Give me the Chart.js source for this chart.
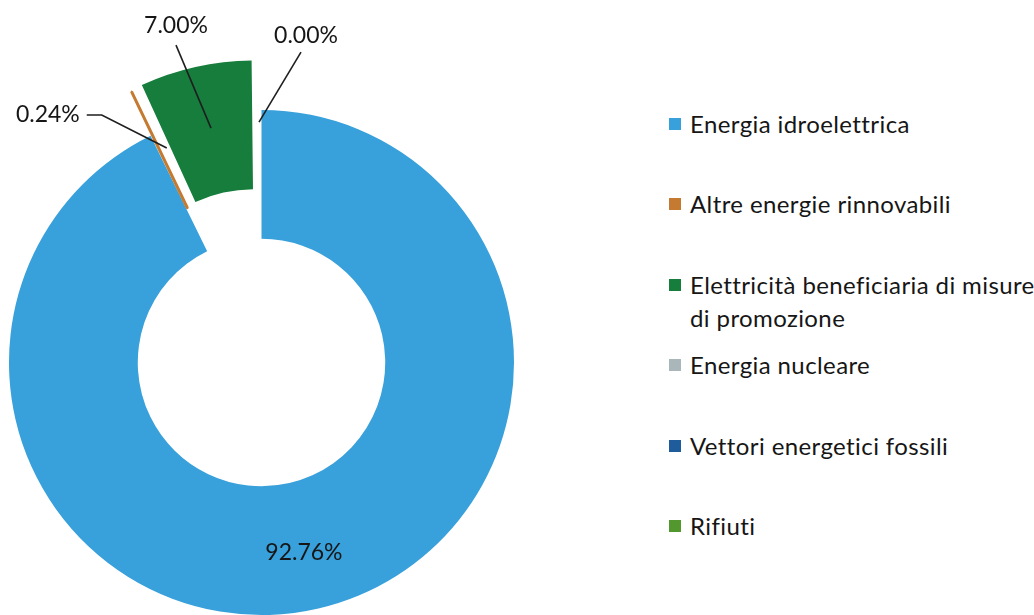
<!DOCTYPE html>
<html lang="it">
<head>
<meta charset="utf-8">
<title>Mix energetico</title>
<script src="https://cdn.jsdelivr.net/npm/chart.js@4.4.1/dist/chart.umd.min.js"></script>
<style>
  html, body { margin: 0; padding: 0; background: #fff; overflow: hidden; width: 1034px; height: 615px; }
  #wrap { position: absolute; left: 1px; top: 0; width: 521px; height: 725px; }
  #legend { position: absolute; left: 669px; top: 107px; margin: 0; padding: 0; list-style: none;
            font-family: Lato, sans-serif; font-size: 24px; letter-spacing: 0.4px; color: #161616; }
  #legend li { height: 80.4px; display: flex; align-items: flex-start; line-height: 33px; white-space: nowrap; }
  #legend .box { width: 12px; height: 12px; margin-top: 11px; margin-right: 9px; flex: none; }
</style>
</head>
<body>
<div id="wrap"><canvas id="pieChart"></canvas></div>
<ul id="legend"></ul>
<script>
"use strict";

const categories = [
  "Energia idroelettrica",
  "Altre energie rinnovabili",
  ["Elettricità beneficiaria di misure", "di promozione"],
  "Energia nucleare",
  "Vettori energetici fossili",
  "Rifiuti"
];
const shares = [92.76, 0.24, 7.00, 0, 0, 0];

const sliceColors = ["#38a0da", "#c47a30", "#167d3c", "#a9b6ba", "#1f5c9c", "#53982f"];
const sliceOffsets = [0, 96, 128, 0, 0, 0];
const sliceBorders = [0, 3, 0, 0, 0, 0];

// where each percentage label goes, relative to the slice's center point
const callouts = {
  0: { text: [0, 7], align: "center" },
  1: { line: [[7.4, -1.6], [-57.6, -34.6], [-72.6, -34.6]], text: [-79.6, -34.6], align: "right" },
  2: { line: [[4.5, 11.7], [-30.5, -71.3]], text: [-30.5, -91.3], align: "center" },
  5: { line: [[-2.5, -52.25], [39.5, -122.25]], text: [44.5, -139.25], align: "center" }
};

const calloutPlugin = {
  id: "callouts",
  afterDatasetsDraw(chart) {
    const ctx = chart.ctx;
    const arcs = chart.getDatasetMeta(0).data;
    ctx.save();
    ctx.font = "23px Lato, sans-serif";
    ctx.fillStyle = "#161616";
    ctx.strokeStyle = "#1e1e1e";
    ctx.lineWidth = 1.6;
    ctx.textBaseline = "middle";
    for (const key in callouts) {
      let i = Number(key);
      let c = callouts[key];
      let p = arcs[i].getCenterPoint();
      if (c.line) {
        ctx.beginPath();
        c.line.forEach(function (pt, k) {
          if (k === 0) ctx.moveTo(p.x + pt[0], p.y + pt[1]);
          else ctx.lineTo(p.x + pt[0], p.y + pt[1]);
        });
        ctx.stroke();
      }
      ctx.textAlign = c.align;
      ctx.fillText(shares[i].toFixed(2) + "%", p.x + c.text[0], p.y + c.text[1]);
    }
    ctx.restore();
  }
};

const pieData = {
  labels: categories,
  datasets: [
    {
      data: shares,
      backgroundColor: sliceColors,
      borderColor: sliceColors,
      borderWidth: sliceBorders,
      offset: sliceOffsets,
    },
  ],
};

const configPie = {
  type: "doughnut",
  data: pieData,
  options: {
    responsive: true,
    maintainAspectRatio: false,
    animation: false,
    events: [],
    radius: 252.5,
    cutout: "49%",
    plugins: {
      legend: { display: false },
      tooltip: { enabled: false },
    },
  },
  plugins: [calloutPlugin],
};

const pieChart = new Chart(document.getElementById("pieChart"), configPie);

// html legend next to the chart
const legendList = document.getElementById("legend");
for (let i = 0; i < categories.length; i++) {
  let item = document.createElement("li");
  let box = document.createElement("span");
  box.className = "box";
  box.style.background = sliceColors[i];
  let label = document.createElement("span");
  [].concat(categories[i]).forEach(function (ln, k) {
    if (k > 0) label.appendChild(document.createElement("br"));
    label.appendChild(document.createTextNode(ln));
  });
  item.appendChild(box);
  item.appendChild(label);
  legendList.appendChild(item);
}
</script>
</body>
</html>
